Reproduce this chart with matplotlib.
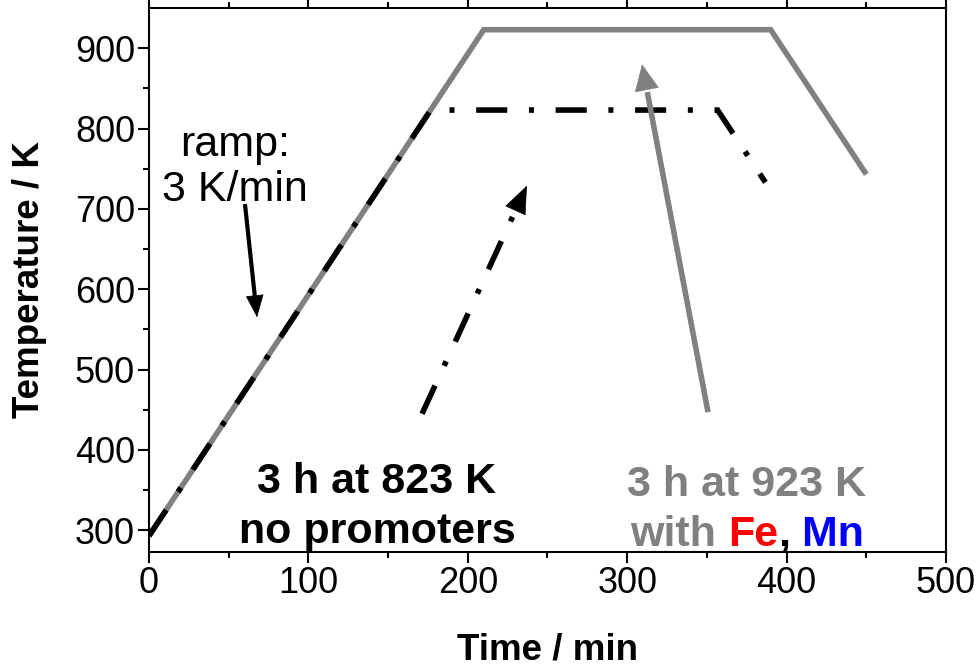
import numpy as np
import matplotlib
matplotlib.use("Agg")
import matplotlib.pyplot as plt

plt.rcParams['font.family'] = ['Liberation Sans', 'DejaVu Sans']

# temperature programmes (min, K)
time_fe_mn = [0, 210, 390, 450]
temp_fe_mn = [293, 923, 923, 743]
time_plain = [0, 176.7, 356.7, 386.7]
temp_plain = [293, 823, 823, 733]

# annotation arrows: (tail, tip) in data units
ramp_arrow = [(60.2, 706), (67.8, 565)]
plain_arrow = [(171.3, 445), (237.1, 729)]
fe_mn_arrow = [(350.7, 447), (309.3, 880)]

x_ticks = [0, 100, 200, 300, 400, 500]
y_ticks = [300, 400, 500, 600, 700, 800, 900]

GRAY = '#808080'
dashdot = (0, (5.6, 3.9, 0.9, 3.9))

fig = plt.figure(figsize=(9.78, 6.66), dpi=100)
ax = fig.add_axes([149/978, 1-552/666, (946-149)/978, (552-8)/666])

ax.plot(time_fe_mn, temp_fe_mn, color=GRAY, lw=4, solid_joinstyle='miter', solid_capstyle='butt')
ax.plot(time_plain, temp_plain, color='black', lw=4, linestyle=dashdot,
        dash_joinstyle='miter', dash_capstyle='butt')


def arrow(pts, color, lw, ls, hl, hw):
    (x0, y0), (x1, y1) = pts
    ax.plot([x0, x1 - (x1 - x0) * 0.08], [y0, y1 - (y1 - y0) * 0.08], color=color, lw=lw,
            linestyle=ls, solid_capstyle='butt', dash_capstyle='butt')
    ax.annotate('', xy=(x1, y1), xytext=(x1 - (x1 - x0) * 0.02, y1 - (y1 - y0) * 0.02),
                arrowprops=dict(arrowstyle='-|>,head_length=%g,head_width=%g' % (hl, hw),
                                color=color, lw=0.5, shrinkA=0, shrinkB=0, mutation_scale=20))


arrow(ramp_arrow, 'black', 3, '-', 0.75, 0.3)
arrow(plain_arrow, 'black', 4, dashdot, 0.95, 0.38)
arrow(fe_mn_arrow, GRAY, 4, '-', 0.9, 0.42)

ax.text(54, 766, 'ramp:', fontsize=31, ha='center', va='baseline')
ax.text(54, 710, '3 K/min', fontsize=31, ha='center', va='baseline')

ax.text(143, 346, '3 h at 823 K', fontsize=31, fontweight='bold', ha='center', va='baseline')
ax.text(143, 284, 'no promoters', fontsize=31, fontweight='bold', ha='center', va='baseline')

ax.text(375, 343, '3 h at 923 K', fontsize=31, fontweight='bold', ha='center', va='baseline', color=GRAY)
t = ax.text(301.8, 281, 'with ', fontsize=31, fontweight='bold', ha='left', va='baseline', color=GRAY)
for part, col in [('Fe', 'red'), (',', 'black'), (' Mn', 'blue')]:
    t = ax.annotate(part, xy=(1, 281), xycoords=(t, 'data'), fontsize=31, fontweight='bold',
                    ha='left', va='baseline', color=col)

ax.set_xlim(0, 500)
ax.set_ylim(273, 950)
ax.set_xticks(x_ticks)
ax.set_yticks(y_ticks)
ax.set_xticks(np.arange(50, 500, 100), minor=True)
ax.set_yticks(np.arange(350, 950, 100), minor=True)
ax.tick_params(which='both', direction='out', width=1.5, labelsize=26, top=True, right=False, pad=2)
ax.tick_params(which='major', length=8)
ax.tick_params(which='minor', length=4.5)
for s in ax.spines.values():
    s.set_linewidth(1.5)

ax.set_xlabel('Time / min', fontsize=26.5, fontweight='bold', labelpad=23)
ax.set_ylabel('Temperature / K', fontsize=26.5, fontweight='bold', labelpad=20)

fig.savefig('out.png', dpi=100)
